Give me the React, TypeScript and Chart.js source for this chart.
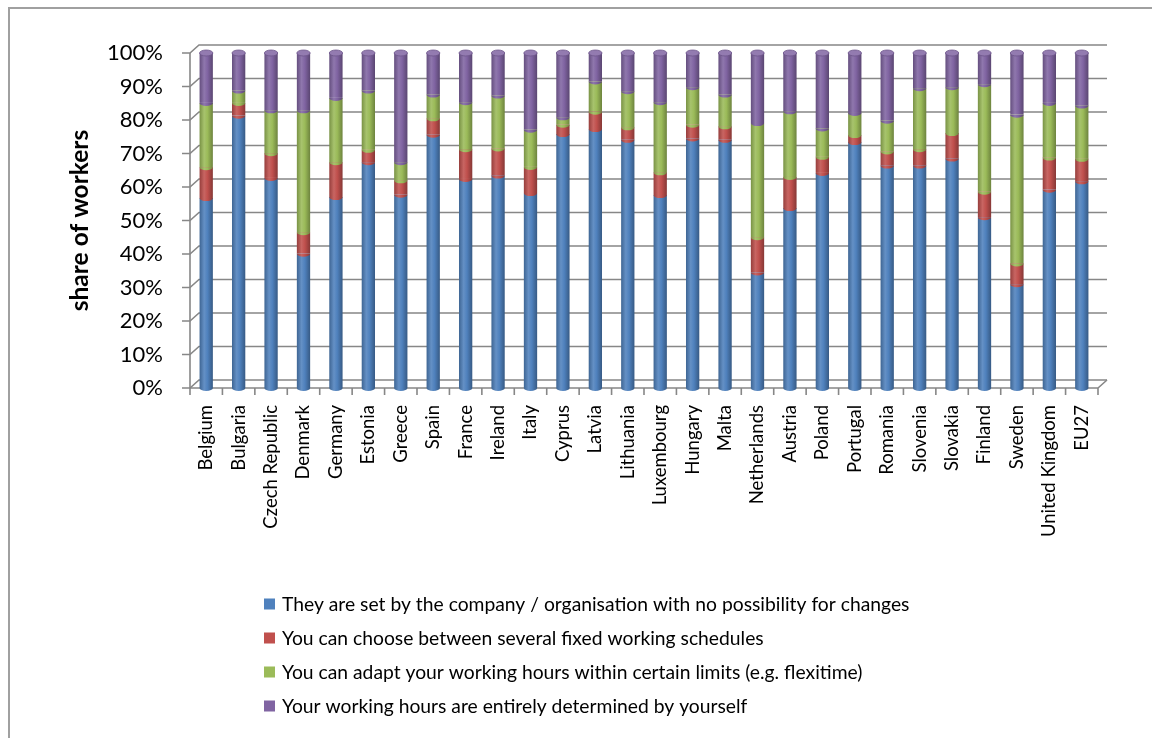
import React, { useEffect, useRef } from "react";
import { Chart, registerables } from "chart.js";

Chart.register(...registerables);

const categories = [
  "Belgium", "Bulgaria", "Czech Republic", "Denmark", "Germany", "Estonia", "Greece",
  "Spain", "France", "Ireland", "Italy", "Cyprus", "Latvia", "Lithuania", "Luxembourg",
  "Hungary", "Malta", "Netherlands", "Austria", "Poland", "Portugal", "Romania",
  "Slovenia", "Slovakia", "Finland", "Sweden", "United Kingdom", "EU27",
];

const setByCompany = [
  56.7, 81.3, 62.7, 40.1, 57.0, 67.4, 57.7, 75.6, 62.4, 63.4, 58.2, 75.8, 77.3, 74.1,
  57.6, 74.5, 74.1, 34.5, 53.7, 64.2, 73.4, 66.4, 66.4, 68.5, 51.0, 31.0, 59.2, 61.7,
];
const fixedSchedules = [
  9.2, 3.8, 7.4, 6.4, 10.4, 3.7, 4.3, 4.9, 8.9, 8.1, 7.8, 2.8, 5.2, 3.7,
  6.8, 4.1, 4.0, 10.5, 9.3, 4.8, 2.1, 4.2, 4.9, 7.6, 7.6, 6.2, 9.6, 6.7,
];
const flexitime = [
  19.2, 3.7, 12.8, 36.4, 19.2, 17.7, 5.4, 7.1, 14.0, 15.8, 11.1, 2.2, 9.0, 10.8,
  20.9, 11.2, 9.5, 34.1, 19.6, 8.5, 6.6, 9.2, 18.2, 13.7, 32.1, 44.4, 16.3, 15.9,
];
const selfDetermined = [
  14.9, 11.2, 17.1, 17.1, 13.4, 11.2, 32.6, 12.4, 14.7, 12.7, 22.9, 19.2, 8.5, 11.4,
  14.7, 10.2, 12.4, 20.9, 17.4, 22.5, 17.9, 20.2, 10.5, 10.2, 9.3, 18.4, 14.9, 15.7,
];

const yTicks = [0, 10, 20, 30, 40, 50, 60, 70, 80, 90, 100];

const seriesLabels = [
  "They are set by the company / organisation with no possibility for changes",
  "You can choose between several fixed working schedules",
  "You can adapt your working hours within certain limits (e.g. flexitime)",
  "Your working hours are entirely determined by yourself",
];
const seriesColors = ["#4f81bd", "#c0504d", "#9bbb59", "#8064a2"];
const seriesData = [setByCompany, fixedSchedules, flexitime, selfDetermined];

const FONT = "Lato, 'Open Sans', sans-serif";
const BAR_PCT = 0.41;
const DX = 9;
const DY = -8;
const RY = 3;

function shade(hex: string, f: number): string {
  const n = parseInt(hex.slice(1), 16);
  let r = (n >> 16) & 255, g = (n >> 8) & 255, b = n & 255;
  if (f >= 0) {
    r = r + (255 - r) * f; g = g + (255 - g) * f; b = b + (255 - b) * f;
  } else {
    r = r * (1 + f); g = g * (1 + f); b = b * (1 + f);
  }
  return `rgb(${Math.round(r)},${Math.round(g)},${Math.round(b)})`;
}

function makeFill(col: string) {
  return (c: any) => {
    const chart = c.chart;
    const xs = chart.scales && chart.scales.x;
    if (!xs || !chart.chartArea || c.type !== "data") return col;
    const x = xs.getPixelForValue(c.dataIndex);
    const w = (xs.width / categories.length) * BAR_PCT;
    const g = chart.ctx.createLinearGradient(x - w / 2, 0, x + w / 2, 0);
    g.addColorStop(0, shade(col, -0.22));
    g.addColorStop(0.35, shade(col, 0.12));
    g.addColorStop(0.6, col);
    g.addColorStop(1, shade(col, -0.3));
    return g;
  };
}

const frame3d = {
  id: "frame3d",
  beforeDatasetsDraw(chart: any) {
    const { ctx, chartArea } = chart;
    const { left, right, top, bottom } = chartArea;
    const y = chart.scales.y;
    const x = chart.scales.x;
    ctx.save();
    ctx.strokeStyle = "#878787";
    ctx.lineWidth = 1.6;
    yTicks.forEach((v) => {
      const py = y.getPixelForValue(v);
      ctx.beginPath();
      ctx.moveTo(left - 8, py);
      ctx.lineTo(left, py);
      ctx.lineTo(left + DX, py + DY);
      ctx.lineTo(right + DX, py + DY);
      ctx.stroke();
    });
    ctx.beginPath();
    ctx.moveTo(left, top);
    ctx.lineTo(left, bottom);
    ctx.moveTo(left, bottom);
    ctx.lineTo(right, bottom);
    ctx.lineTo(right + DX, bottom + DY);
    for (let i = 0; i <= categories.length; i++) {
      const px = x.getPixelForValue(i - 0.5);
      ctx.moveTo(px, bottom);
      ctx.lineTo(px, bottom + 7);
    }
    ctx.stroke();
    ctx.restore();
  },
};

const cylinders = {
  id: "cylinders",
  afterDatasetsDraw(chart: any) {
    const ctx = chart.ctx;
    const n = chart.data.datasets.length;
    for (let di = 0; di < n; di++) {
      const meta = chart.getDatasetMeta(di);
      meta.data.forEach((el: any) => {
        const { x, y, base, width } = el.getProps(["x", "y", "base", "width"], true);
        if (Math.abs(base - y) < 0.5) return;
        ctx.save();
        ctx.fillStyle = el.options.backgroundColor;
        ctx.beginPath();
        ctx.ellipse(x, base, width / 2, RY, 0, 0, Math.PI);
        ctx.fill();
        ctx.restore();
      });
    }
    const top = chart.getDatasetMeta(n - 1);
    top.data.forEach((el: any) => {
      const { x, y, width } = el.getProps(["x", "y", "width"], true);
      ctx.save();
      ctx.fillStyle = shade(seriesColors[n - 1], 0.15);
      ctx.strokeStyle = shade(seriesColors[n - 1], -0.15);
      ctx.lineWidth = 0.8;
      ctx.beginPath();
      ctx.ellipse(x, y, width / 2, RY, 0, 0, Math.PI * 2);
      ctx.fill();
      ctx.stroke();
      ctx.restore();
    });
  },
};

const listLegend = {
  id: "listLegend",
  afterDraw(chart: any) {
    const ctx = chart.ctx;
    const boxLeft = 264;
    const firstRow = 604;
    const rowGap = 34;
    const box = 11;
    ctx.save();
    ctx.font = `19.3px ${FONT}`;
    ctx.textBaseline = "middle";
    ctx.textAlign = "left";
    chart.data.datasets.forEach((ds: any, i: number) => {
      const cy = firstRow + i * rowGap;
      ctx.fillStyle = seriesColors[i];
      ctx.fillRect(boxLeft, cy - box / 2, box, box);
      ctx.fillStyle = "#000";
      ctx.fillText(ds.label, boxLeft + 18, cy + 1);
    });
    ctx.restore();
  },
};

export default function App() {
  const ref = useRef<HTMLCanvasElement | null>(null);

  useEffect(() => {
    let chart: Chart | null = null;
    let cancelled = false;
    const make = () => {
      if (cancelled || !ref.current) return;
      chart = new Chart(ref.current, {
        type: "bar",
        data: {
          labels: categories,
          datasets: seriesData.map((d, i) => ({
            label: seriesLabels[i],
            data: d,
            backgroundColor: makeFill(seriesColors[i]) as any,
            borderWidth: 0,
            barPercentage: BAR_PCT,
            categoryPercentage: 1,
          })),
        },
        options: {
          responsive: false,
          animation: false,
          layout: { padding: { top: 53, right: 54, bottom: 0, left: 0 } },
          plugins: {
            legend: { display: false },
            tooltip: { enabled: false },
            title: { display: false },
          },
          scales: {
            x: {
              stacked: true,
              grid: { display: false, drawTicks: false },
              border: { display: false },
              ticks: {
                autoSkip: false,
                maxRotation: 90,
                minRotation: 90,
                padding: 17,
                color: "#000",
                font: { family: FONT, size: 18.5 },
              },
              afterFit: (s: any) => {
                s.height = 350;
              },
            },
            y: {
              stacked: true,
              min: 0,
              max: 100,
              grid: { display: false, drawTicks: false },
              border: { display: false },
              ticks: {
                stepSize: 10,
                padding: 27,
                color: "#000",
                font: { family: FONT, size: 22 },
                callback: (v: any) => `${v}%`,
              },
              title: {
                display: true,
                text: "share of workers",
                color: "#000",
                font: { family: FONT, size: 24.5, weight: "bold" },
                padding: { top: 65, bottom: 0 },
              },
              afterFit: (s: any) => {
                s.width = 190;
              },
            },
          },
        },
        plugins: [frame3d, cylinders, listLegend],
      });
    };
    const fonts = (document as any).fonts;
    if (fonts && fonts.load) {
      Promise.all([
        fonts.load(`18px Lato`),
        fonts.load(`22px Lato`),
        fonts.load(`bold 22px Lato`),
      ]).then(make, make);
    } else {
      make();
    }
    return () => {
      cancelled = true;
      if (chart) chart.destroy();
    };
  }, []);

  return (
    <div>
      <div
        style={{
          position: "fixed",
          left: 8,
          top: 7,
          width: 1300,
          height: 900,
          borderLeft: "2px solid #a0a0a0",
          borderTop: "2px solid #a0a0a0",
          boxSizing: "border-box",
          background: "#fff",
        }}
      />
      <canvas
        ref={ref}
        width={1152}
        height={738}
        style={{ position: "fixed", left: 0, top: 0, width: 1152, height: 738 }}
      />
    </div>
  );
}
